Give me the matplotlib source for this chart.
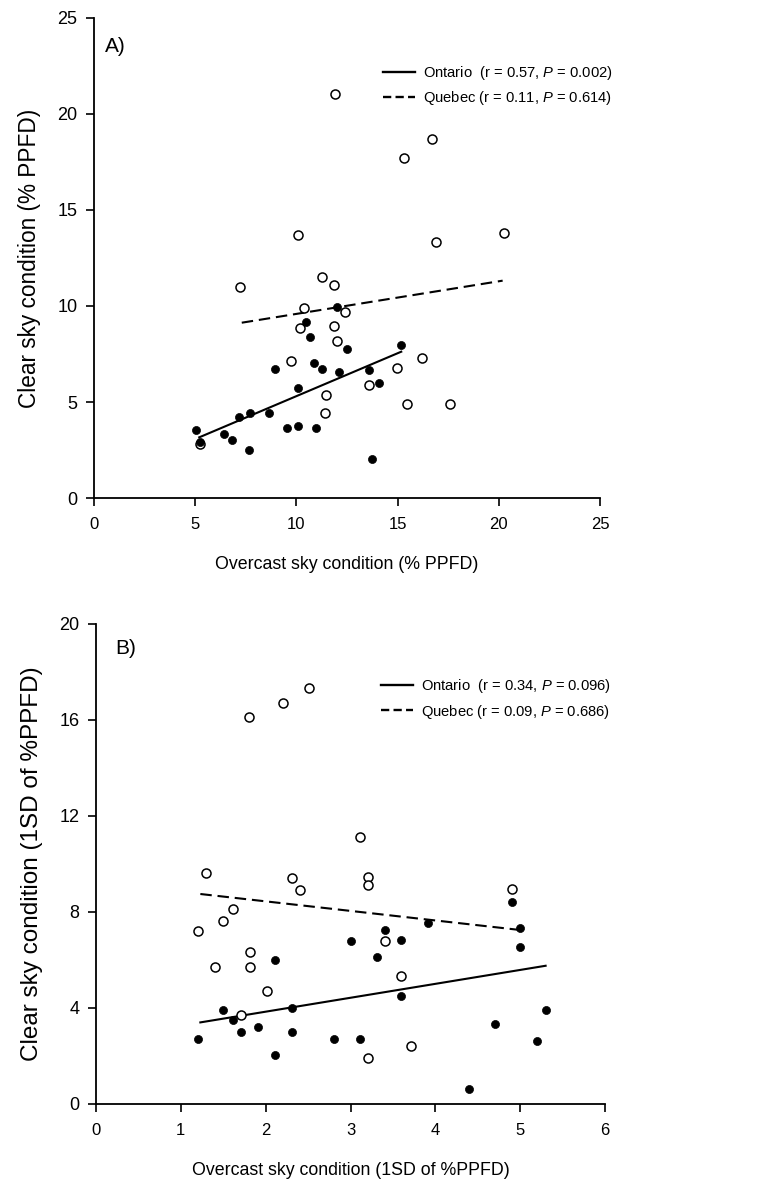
import matplotlib
matplotlib.use("Agg")
import matplotlib.pyplot as plt
from matplotlib import font_manager
from matplotlib.lines import Line2D

names = {f.name for f in font_manager.fontManager.ttflist}
HAS_NARROW = "Liberation Sans Narrow" in names
NARROW = "Liberation Sans Narrow" if HAS_NARROW else "Liberation Sans"
REG = "Liberation Sans"
plt.rcParams["font.family"] = [NARROW, "DejaVu Sans"]
plt.rcParams["mathtext.fontset"] = "custom"
plt.rcParams["mathtext.rm"] = NARROW
plt.rcParams["mathtext.it"] = NARROW + ":italic"

# font sizes for the horizontally condensed texts
if HAS_NARROW:
    XT_SIZE, XL_SIZE, LEG_SIZE, PANEL_SIZE = 13, 15.5, 12.3, 16.5
else:
    XT_SIZE, XL_SIZE, LEG_SIZE, PANEL_SIZE = 12, 12.8, 10.6, 15

# ---------------- Panel A data ----------------
a_ont_x = [5.04, 5.24, 6.44, 6.83, 7.15, 7.64, 7.72, 8.65, 8.96, 9.55, 10.06, 10.08,
           10.46, 10.67, 10.87, 10.98, 11.28, 11.99, 12.09, 12.5, 13.6, 13.72, 14.1, 15.18]
a_ont_y = [3.54, 2.93, 3.33, 3.02, 4.24, 2.52, 4.44, 4.44, 6.74, 3.65, 5.75, 3.73,
           9.17, 8.37, 7.05, 3.65, 6.74, 9.97, 6.54, 7.76, 6.67, 2.03, 5.99, 7.98]
a_que_x = [11.91, 16.68, 15.3, 10.06, 20.27, 16.9, 7.23, 11.28, 11.87, 10.39,
           10.16, 11.87, 12.38, 11.99, 9.75, 14.99, 16.19, 13.6, 11.48, 11.4,
           15.48, 17.57, 5.25]
a_que_y = [21.04, 18.7, 17.69, 13.68, 13.82, 13.32, 10.97, 11.49, 11.08, 9.9,
           8.87, 8.97, 9.67, 8.16, 7.15, 6.79, 7.27, 5.89, 5.36, 4.44,
           4.88, 4.88, 2.8]
a_ont_fit_x = [5.2, 15.18]
a_ont_fit_y = [3.16, 7.62]
a_que_fit_x = [7.3, 20.19]
a_que_fit_y = [9.13, 11.32]
a_labels = ["Ontario  (r = 0.57, $P$ = 0.002)", "Quebec (r = 0.11, $P$ = 0.614)"]

# ---------------- Panel B data ----------------
b_ont_x = [4.9, 3.91, 3.41, 5.0, 3.01, 3.6, 5.0, 3.31, 2.11, 3.6, 2.31, 1.5, 5.3,
           1.61, 1.91, 4.7, 1.2, 1.71, 2.31, 2.81, 3.11, 5.2, 2.11, 4.4]
b_ont_y = [8.43, 7.53, 7.24, 7.33, 6.81, 6.83, 6.53, 6.11, 6.0, 4.51, 4.01, 3.92, 3.92,
           3.51, 3.21, 3.33, 2.72, 3.01, 3.01, 2.72, 2.72, 2.64, 2.03, 0.63]
b_que_x = [2.51, 2.2, 1.8, 3.11, 1.3, 2.31, 2.4, 3.21, 3.21, 4.9,
           1.61, 1.5, 1.2, 1.81, 1.4, 1.81, 3.41, 3.6, 2.01, 1.71, 3.71, 3.21]
b_que_y = [17.32, 16.71, 16.11, 11.13, 9.63, 9.42, 8.9, 9.47, 9.13, 8.94,
           8.11, 7.63, 7.22, 6.32, 5.71, 5.71, 6.81, 5.32, 4.72, 3.71, 2.43, 1.93]
b_ont_fit_x = [1.23, 5.3]
b_ont_fit_y = [3.4, 5.76]
b_que_fit_x = [1.23, 5.0]
b_que_fit_y = [8.75, 7.25]
b_labels = ["Ontario  (r = 0.34, $P$ = 0.096)", "Quebec (r = 0.09, $P$ = 0.686)"]

W, H = 779, 1189
fig = plt.figure(figsize=(W / 100, H / 100), dpi=100)

def px_axes(l, r, top, bottom):
    return fig.add_axes([l / W, 1 - bottom / H, (r - l) / W, (bottom - top) / H])

axA = px_axes(94, 600, 18, 498)
axB = px_axes(96, 605, 624, 1104)

def style(ax, xlim, ylim, xticks, yticks, xlabel, ylabel, ylsize):
    ax.set_xlim(*xlim)
    ax.set_ylim(*ylim)
    ax.set_xticks(xticks)
    ax.set_yticks(yticks)
    for s in ["top", "right"]:
        ax.spines[s].set_visible(False)
    for s in ["left", "bottom"]:
        ax.spines[s].set_linewidth(1.3)
    ax.tick_params(direction="out", length=6, width=1.2, pad=6)
    ax.tick_params(axis="x", pad=8)
    for lab in ax.get_xticklabels():
        lab.set_fontfamily(NARROW)
        lab.set_fontsize(XT_SIZE)
    for lab in ax.get_yticklabels():
        lab.set_fontfamily(REG)
        lab.set_fontsize(13)
    ax.set_xlabel(xlabel, fontsize=XL_SIZE, fontfamily=NARROW, labelpad=17)
    ax.set_ylabel(ylabel, fontsize=ylsize, fontfamily=REG, labelpad=12)

def draw(ax, ox, oy, qx, qy, ofx, ofy, qfx, qfy):
    ax.plot(qx, qy, linestyle="none", marker="o", markersize=6.5,
            markerfacecolor="white", markeredgecolor="black", markeredgewidth=1.1, zorder=3)
    ax.plot(ox, oy, linestyle="none", marker="o", markersize=5.8,
            markerfacecolor="black", markeredgecolor="black", markeredgewidth=0.5, zorder=4)
    ax.plot(ofx, ofy, color="black", linewidth=1.5, linestyle="-", zorder=2)
    ax.plot(qfx, qfy, color="black", linewidth=1.5, linestyle=(0, (5.5, 2.8)), zorder=2)
    return [Line2D([], [], color="black", linewidth=1.7, linestyle="-"),
            Line2D([], [], color="black", linewidth=1.7, linestyle=(0, (3.5, 1.8)))]

hA = draw(axA, a_ont_x, a_ont_y, a_que_x, a_que_y,
          a_ont_fit_x, a_ont_fit_y, a_que_fit_x, a_que_fit_y)
hB = draw(axB, b_ont_x, b_ont_y, b_que_x, b_que_y,
          b_ont_fit_x, b_ont_fit_y, b_que_fit_x, b_que_fit_y)

style(axA, (0, 25), (0, 25), [0, 5, 10, 15, 20, 25], [0, 5, 10, 15, 20, 25],
      "Overcast sky condition (% PPFD)", "Clear sky condition (% PPFD)", 16.3)
style(axB, (0, 6), (0, 20), [0, 1, 2, 3, 4, 5, 6], [0, 4, 8, 12, 16, 20],
      "Overcast sky condition (1SD of %PPFD)", "Clear sky condition (1SD of %PPFD)", 17.5)

em = LEG_SIZE * 100 / 72
legkw = dict(frameon=False, loc="upper left", borderpad=0, borderaxespad=0,
             handlelength=32 / em, handletextpad=8 / em, labelspacing=0.5,
             prop={"family": NARROW, "size": LEG_SIZE})
axA.legend(hA, a_labels, bbox_to_anchor=(0.571, 0.904), **legkw)
axB.legend(hB, b_labels, bbox_to_anchor=(0.56, 0.889), **legkw)

axA.text(0.022, 0.94, "A)", transform=axA.transAxes, fontsize=PANEL_SIZE,
         fontfamily=NARROW, va="center", ha="left")
axB.text(0.037, 0.948, "B)", transform=axB.transAxes, fontsize=PANEL_SIZE,
         fontfamily=NARROW, va="center", ha="left")

fig.savefig("out.png", dpi=100)
